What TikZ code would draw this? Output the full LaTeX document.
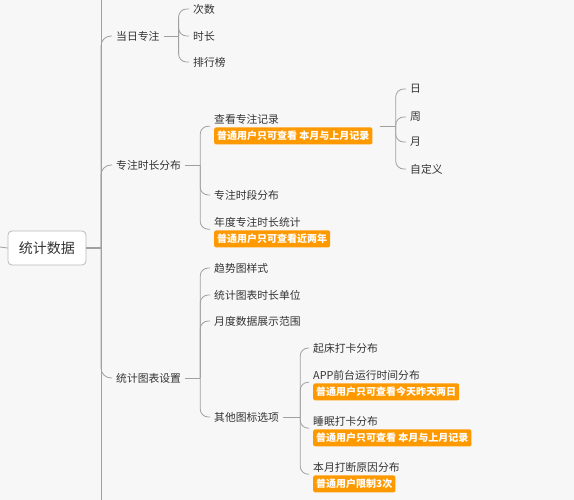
\documentclass[tikz,border=0pt]{standalone}
\usepackage{fontspec}
\setmainfont{Noto Sans CJK SC}
\usepackage{xcolor}
\usepackage{tikz}
\usetikzlibrary{positioning}
\definecolor{colorBg}{RGB}{247,247,247}
\definecolor{colorLine}{RGB}{160,160,160}
\definecolor{colorText}{RGB}{51,51,51}
\definecolor{colorTag}{RGB}{255,153,0}
\tikzset{
  topic/.style={anchor=west,inner xsep=4pt,inner ysep=2pt,text=colorText,font=\fontsize{10.8}{13}\selectfont},
  tag/.style={fill=colorTag,text=white,rounded corners=2pt,inner xsep=3pt,inner ysep=1.5pt,minimum height=17pt,font=\bfseries\fontsize{10}{12}\selectfont},
  rootbox/.style={draw=gray!55,fill=white,rounded corners=4pt,line width=0.8pt,minimum width=78pt,minimum height=34pt,text=colorText,font=\fontsize{14}{16}\selectfont},
  link/.style={draw=colorLine,line width=0.8pt},
  brace/.style={link,rounded corners=8pt},
}

\begin{document}
\begin{tikzpicture}[x=1pt,y=-1pt]
  \fill[colorBg] (0,0) rectangle (574,500);
  \useasboundingbox (0,0) rectangle (574,500);

  % root and spine
  \node[rootbox] (root) at (47,248) {统计数据};
  \coordinate (in) at (0,247);
  \coordinate (sp) at (101,248);
  \coordinate (spTop) at (101,-2);
  \coordinate (spBot) at (101,502);
  \draw[link] (in) -- (root.west);
  \draw[link,line width=1.5pt] (root.east) -- (sp);
  \draw[link] (spTop) -- (spBot);

  \node[topic] (c1) at (112,36) {当日专注};
  \node[topic] (c2) at (112,165) {专注时长分布};
  \node[topic] (c3) at (112,378) {统计图表设置};
  \foreach \k in {c1,c2,c3} \draw[brace,rounded corners=10pt] (sp) |- (\k.west);

  % 当日专注
  \node[topic] (c1a) at (189,9) {次数};
  \node[topic] (c1b) at (189,36) {时长};
  \node[topic] (c1c) at (189,62) {排行榜};
  \draw[link] (c1.east) -- ++(15,0) coordinate (c1j);
  \foreach \k in {c1a,c1b,c1c} \draw[brace] (c1j) |- (\k.west);

  % 专注时长分布
  \node[topic] (c2a) at (210,119) {查看专注记录};
  \node[tag,below=1pt of c2a.south west,anchor=north west,xshift=4pt] (t2a) {普通用户只可查看 本月与上月记录};
  \node[topic] (c2b) at (210,195) {专注时段分布};
  \node[topic] (c2c) at (210,222) {年度专注时长统计};
  \node[tag,below=1pt of c2c.south west,anchor=north west,xshift=4pt] (t2c) {普通用户只可查看近两年};
  \draw[link] (c2.east) -- ++(15,0) coordinate (c2j);
  \foreach \k in {c2a.south west,c2b.west,c2c.south west} \draw[brace] (c2j) |- (\k);

  \node[topic] (d1) at (406,89) {日};
  \node[topic] (d2) at (406,117) {周};
  \node[topic] (d3) at (406,142) {月};
  \node[topic] (d4) at (406,169) {自定义};
  \draw[link] (c2a.south -| t2a.east) ++(7,0) -- ++(16,0) coordinate (c2aj);
  \foreach \k in {d1,d2,d3,d4} \draw[brace] (c2aj) |- (\k.west);

  % 统计图表设置
  \node[topic] (c3a) at (210,268) {趋势图样式};
  \node[topic] (c3b) at (210,295) {统计图表时长单位};
  \node[topic] (c3c) at (210,321) {月度数据展示范围};
  \node[topic] (c3d) at (210,417) {其他图标选项};
  \draw[link] (c3.east) -- ++(15,0) coordinate (c3j);
  \foreach \k in {c3a,c3b,c3c,c3d} \draw[brace] (c3j) |- (\k.west);

  \node[topic] (e1) at (309,348) {起床打卡分布};
  \node[topic] (e2) at (309,375) {APP前台运行时间分布};
  \node[tag,below=1pt of e2.south west,anchor=north west,xshift=4pt] (t2) {普通用户只可查看今天昨天两日};
  \node[topic] (e3) at (309,421) {睡眠打卡分布};
  \node[tag,below=1pt of e3.south west,anchor=north west,xshift=4pt] (t3) {普通用户只可查看 本月与上月记录};
  \node[topic] (e4) at (309,467) {本月打断原因分布};
  \node[tag,below=1pt of e4.south west,anchor=north west,xshift=4pt] (t4) {普通用户限制3次};
  \draw[link] (c3d.east) -- ++(17,0) coordinate (c3dj);
  \foreach \k in {e1.west,e2.south west,e3.south west,e4.south west} \draw[brace] (c3dj) |- (\k);
\end{tikzpicture}
\end{document}
